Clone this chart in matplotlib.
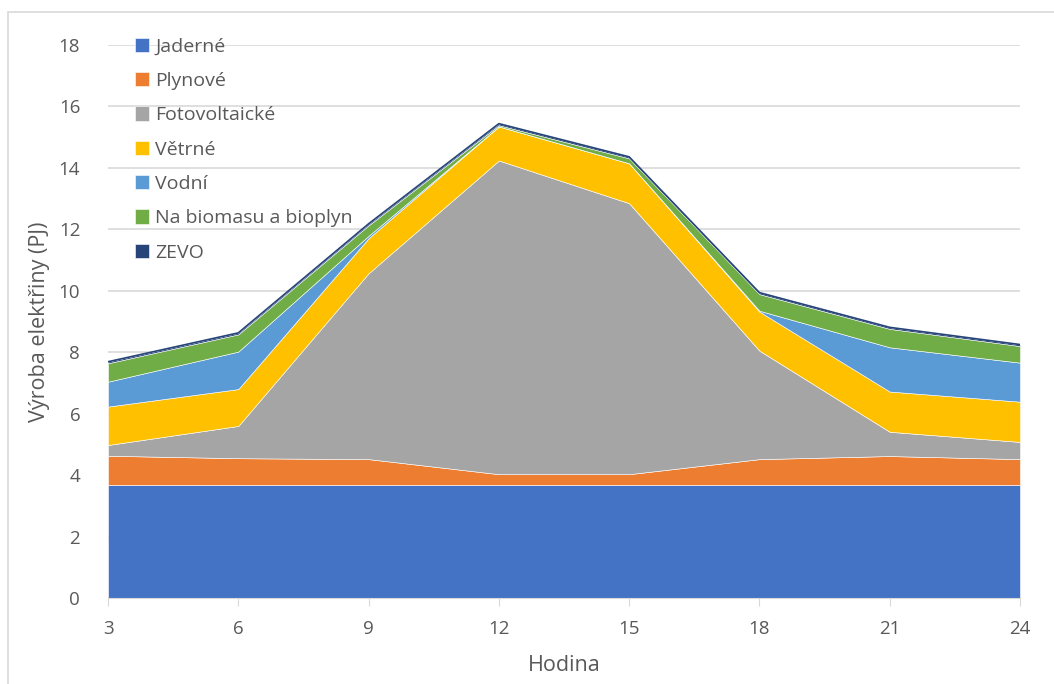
import matplotlib
matplotlib.use('Agg')
from matplotlib import pyplot as plt
from matplotlib.patches import Rectangle
import numpy as np

plt.rcParams['font.family'] = ['Open Sans', 'DejaVu Sans']

# hourly electricity production by source (PJ)
hours = [3, 6, 9, 12, 15, 18, 21, 24]
jaderne = [3.68, 3.68, 3.68, 3.68, 3.68, 3.68, 3.68, 3.68]
plynove = [0.95, 0.87, 0.84, 0.35, 0.35, 0.84, 0.94, 0.84]
fotovoltaicke = [0.35, 1.05, 6.05, 10.21, 8.82, 3.53, 0.79, 0.56]
vetrne = [1.25, 1.20, 1.14, 1.11, 1.30, 1.27, 1.31, 1.31]
vodni = [0.81, 1.22, 0.08, 0.0, 0.0, 0.03, 1.44, 1.27]
biomasa = [0.60, 0.56, 0.34, 0.04, 0.16, 0.54, 0.60, 0.54]
zevo = [0.05, 0.05, 0.05, 0.05, 0.05, 0.05, 0.05, 0.05]

labels = ['Jaderné', 'Plynové', 'Fotovoltaické', 'Větrné', 'Vodní',
          'Na biomasu a bioplyn', 'ZEVO']
colors = ['#4472C4', '#ED7D31', '#A5A5A5', '#FFC000', '#5B9BD5',
          '#70AD47', '#264478']
text_col = '#595959'

fig = plt.figure(figsize=(10.54, 6.84), dpi=100)
ax = fig.add_axes([108 / 1054, 1 - 598 / 684, (1020 - 108) / 1054, (598 - 45) / 684])

stack = ax.stackplot(hours, jaderne, plynove, fotovoltaicke, vetrne, vodni,
                     biomasa, zevo, labels=labels, colors=colors,
                     edgecolor='white', linewidth=0.4)
# thin dark outline for the top series
top = np.sum([jaderne, plynove, fotovoltaicke, vetrne, vodni, biomasa, zevo], axis=0)
ax.plot(hours, top, color=colors[-1], lw=1.2)

ax.set_xlim(3, 24)
ax.set_ylim(0, 18)
ax.set_xticks(hours)
ax.set_yticks(range(0, 19, 2))
ax.yaxis.grid(True, color='#D9D9D9', lw=1.2)
ax.set_axisbelow(True)
for s in ['top', 'right', 'left']:
    ax.spines[s].set_visible(False)
ax.spines['bottom'].set_color('#D9D9D9')
ax.tick_params(axis='y', length=0, pad=20, labelsize=13.5, labelcolor=text_col)
ax.tick_params(axis='x', length=6, color='#D9D9D9', pad=10, labelsize=13.5,
               labelcolor=text_col)

ax.set_xlabel('Hodina', fontsize=15.5, color=text_col, labelpad=12)
ax.set_ylabel('Výroba elektřiny (PJ)', fontsize=15.5, color=text_col, labelpad=6)

leg = ax.legend(loc='upper left', bbox_to_anchor=(0.01, 1.045), frameon=False,
                fontsize=14, labelcolor=text_col, handlelength=0.75,
                handleheight=0.75, handletextpad=0.3, labelspacing=0.84)

# chart area border
fig.patches.append(Rectangle((8 / 1054, -0.1), 1.2, 1 - 12 / 684 + 0.1,
                             transform=fig.transFigure, fill=False,
                             edgecolor='#D9D9D9', lw=1.2))

plt.savefig('out.png', dpi=100)
